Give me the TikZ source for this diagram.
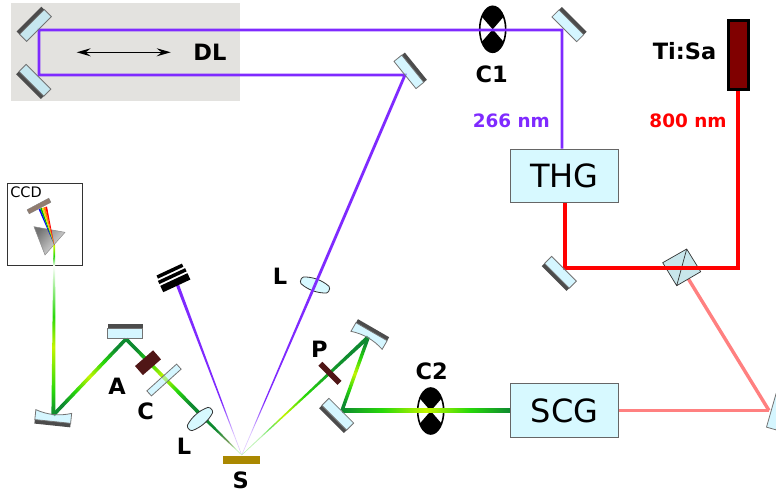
\documentclass[tikz,border=0pt]{standalone}
\usepackage{fontspec}
\setmainfont{DejaVu Sans}
\usepackage{xcolor}
\usepackage{tikz}
\usetikzlibrary{arrows.meta}
\usetikzlibrary{calc}
\definecolor{uvbeam}{HTML}{7F2AFF}
\definecolor{pinkbeam}{HTML}{FF8080}
\definecolor{boxblue}{HTML}{D7F9FF}
\definecolor{glassblue}{HTML}{ABEDFF}
\definecolor{greendark}{HTML}{0E8A30}
\definecolor{greenlit}{HTML}{28D80A}
\definecolor{greenyel}{HTML}{C4F500}
\definecolor{dlgray}{HTML}{E3E2DF}
\definecolor{gratinggray}{HTML}{917C6F}
\definecolor{samplegold}{HTML}{AA8800}
\definecolor{cubeblue}{HTML}{C8E6EB}
\definecolor{darkmaroon}{HTML}{501616}
\pgfdeclarehorizontalshading{wlgreen}{100bp}{color(0bp)=(greendark); color(25bp)=(greendark); color(37bp)=(greenlit); color(50bp)=(greenyel); color(63bp)=(greenlit); color(75bp)=(greendark); color(100bp)=(greendark)}
\pgfdeclarehorizontalshading{wlfocus}{100bp}{color(0bp)=(greendark); color(25bp)=(greendark); color(42bp)=(greendark); color(62bp)=(greendark!60!brown!80!white); color(75bp)=(greenlit!25!white); color(100bp)=(greenlit!25!white)}
\pgfdeclarehorizontalshading{wlprobe}{100bp}{color(0bp)=(greendark); color(25bp)=(greendark); color(36bp)=(greendark!80!greenlit); color(50bp)=(greenlit); color(62bp)=(greenyel); color(69bp)=(greenlit!70!white); color(75bp)=(greenlit!30!white); color(100bp)=(greenlit!30!white)}
\pgfdeclarehorizontalshading{wlccd}{100bp}{color(0bp)=(greendark); color(25bp)=(greendark); color(32bp)=(greenlit); color(45bp)=(greenyel); color(54bp)=(greenlit); color(62bp)=(greenlit!50!white); color(69bp)=(white); color(72bp)=(greenlit); color(75bp)=(greenyel); color(100bp)=(greenyel)}
\pgfdeclarehorizontalshading{uvfade}{100bp}{color(0bp)=(uvbeam); color(25bp)=(uvbeam); color(62bp)=(uvbeam); color(75bp)=(uvbeam!25!white); color(100bp)=(uvbeam!25!white)}
\tikzstyle{glass}=[draw=black!55,line width=.8pt,fill=glassblue,fill opacity=.5]
\tikzstyle{glassback}=[fill=black!70]
\tikzstyle{unit}=[draw=black!60,line width=1.2pt,fill=boxblue,inner sep=0pt,minimum width=108pt,minimum height=53.6pt,font=\fontsize{32}{34}\selectfont]
\tikzstyle{lbl}=[inner sep=0pt,font=\fontsize{22.5}{24}\bfseries\selectfont]
\tikzstyle{wl}=[inner sep=0pt,font=\fontsize{18.4}{20}\bfseries\selectfont]
\tikzset{
	mirror/.pic={
		\fill[glassback] (-17.5,-10) rectangle (17.5,-14);
		\draw[glass] (-17.5,0) rectangle (17.5,-10);
	},
	curvedmirror/.pic={
		\fill[glassback] (-18,-6.5) rectangle (18,-10.5);
		\draw[glass] (-18,3.5) .. controls (-6,-.5) and (6,-.5) .. (18,3.5) -- (18,-6.5) -- (-18,-6.5) -- cycle;
	},
	lens/.pic={
		\draw[draw=black!80,line width=.8pt,fill=boxblue,rounded corners=1.5pt] (-15,-3) .. controls (-5,-7) and (5,-7) .. (15,-3) -- (15,3) .. controls (5,7) and (-5,7) .. (-15,3) -- cycle;
	},
	chopper/.pic={
		\fill[white] (0,0) ellipse (13pt and 23pt);
		\begin{scope}
			\clip (0,0) ellipse (13pt and 23pt);
			\fill (-13,-25) -- (13,-25) -- (13,-15) -- (-13,15) -- (-13,25) -- (13,25) -- (13,15) -- (-13,-15) -- cycle;
		\end{scope}
		\draw[line width=1.6pt] (0,0) ellipse (13pt and 23pt);
	},
	dump/.pic={
		\fill (-14,-9) rectangle (14,-5.5);
		\fill (-15,-3.5) rectangle (15,0);
		\fill (-15,2) rectangle (15,9);
	},
}
% tapered beam: shading, from, to, half width at each end
\newcommand\beam[5]{%
	\path let \p1=($(#3)-(#2)$), \n1={atan2(\y1,\x1)} in \pgfextra{\xdef\beamangle{\n1}};
	\shade[shading=#1,shading angle=\beamangle] ($(#2)!#4!90:(#3)$) -- ($(#3)!#5!-90:(#2)$) -- ($(#3)!#5!90:(#2)$) -- ($(#2)!#4!-90:(#3)$) -- cycle;%
}
\begin{document}
\begin{tikzpicture}[x=1pt,y=-1pt]
	\clip (0,0) rectangle (776,493);
	\fill[dlgray] (10.7,3.3) rectangle (240,100.7);
	\node[unit] (thg) at (564.5,176) {THG};
	\node[unit] (scg) at (564.5,410.5) {SCG};
	\node[draw,line width=3pt,fill=red!50!black,inner sep=0pt,minimum width=20pt,minimum height=69pt] (tisa) at (738,55) {};
	\coordinate (dla) at (39,30);
	\coordinate (dlb) at (39,75);
	\coordinate (mtop) at (562,30);
	\coordinate (msam) at (405,75);
	\coordinate (mred) at (565,268);
	\coordinate (cube) at (681.7,268);
	\coordinate (corner) at (738,268);
	\coordinate (medge) at (769,410.5);
	\coordinate (mgreen) at (342,410.5);
	\coordinate (mfocus) at (368.3,337);
	\coordinate (sam) at (241.7,455);
	\coordinate (mtilt) at (126,339);
	\coordinate (mcurve) at (53.4,415);
	\coordinate (prism) at (54.3,245);
	\coordinate (dumpin) at (177.5,285);
	\coordinate (lensu) at (315,285);
	\coordinate (lensd) at (200,414);
	\coordinate (arrl) at (76.7,52.3);
	\coordinate (arrr) at (170.7,52.3);
	\draw[line width=1.2pt,{Stealth[length=14pt,width=8pt,inset=5pt]}-{Stealth[length=14pt,width=8pt,inset=5pt]}] (arrl) -- (arrr);
	\pic at (492.7,29.3) {chopper};
	\pic at (430.7,411) {chopper};
	\pic[rotate=-20] at (315,285) {lens};
	\draw[line width=3.4pt,pinkbeam] (cube) -- (medge);
	\draw[line width=2.4pt,pinkbeam] (medge) -- (scg.east);
	\draw[draw=black!80,line width=.7pt,fill=cubeblue] (662.7,262.7) -- (686.7,249) -- (700.7,271.7) -- (676.7,285.7) -- cycle (686.7,249) -- (676.7,285.7);
	\draw[line width=3.4pt,red,line join=miter] (tisa.south) -- (corner) -- (mred) -- (mred |- thg.south);
	\draw[line width=2.8pt,uvbeam] (mtop |- thg.north) -- (mtop) -- (dla) -- (dlb) -- (msam) -- (lensu);
	\beam{uvfade}{lensu}{sam}{1.4pt}{.25pt}
	\beam{uvfade}{dumpin}{sam}{1.6pt}{.25pt}
	\beam{wlgreen}{scg.west}{mgreen}{1.7pt}{1.7pt}
	\beam{wlgreen}{mgreen}{mfocus}{1.7pt}{1.7pt}
	\beam{wlprobe}{mfocus}{sam}{2pt}{.25pt}
	\beam{wlgreen}{mtilt}{lensd}{1.8pt}{1.8pt}
	\beam{wlfocus}{lensd}{sam}{1.8pt}{.25pt}
	\beam{wlgreen}{mtilt}{mcurve}{1.8pt}{1.8pt}
	\draw[line width=1pt,black!80] (7.5,183.5) rectangle (82.5,265.5);
	\shade[draw=black!45,line width=.5pt,bottom color=black!55,top color=black!8,shading angle=-130] (34,226.7) -- (65,232.3) -- (45,255) -- cycle;
	\beam{wlccd}{mcurve}{prism}{2pt}{.9pt}
	\foreach \i/\hue in {0/blue,1/green!70!black,2/yellow!90!black,3/orange,4/red} {
		\fill[\hue] (prism) -- ($(38.5,209)!\i/5!(47,206.5)$) -- ($(38.5,209)!\i/5+.2!(47,206.5)$) -- cycle;
	}
	\draw[draw=black!50,fill=gratinggray,rotate around={28:(39,206)}] (26.7,203.7) rectangle (51.3,208.3);
	\pic[rotate=45] at (39,29) {mirror};
	\pic[rotate=135] at (38.5,76.7) {mirror};
	\pic[rotate=-45] at (564.3,29.3) {mirror};
	\pic[rotate=-51] at (405,75) {mirror};
	\pic[rotate=135] at (564,268.7) {mirror};
	\pic[rotate=135] at (341.3,410.7) {mirror};
	\pic at (125.3,338.3) {mirror};
	\pic[rotate=-106] at (771.3,410.3) {mirror};
	\pic[rotate=-30] at (368.3,337.3) {curvedmirror};
	\pic[rotate=174] at (53.4,415) {curvedmirror};
	\pic[rotate=25] at (173,277.7) {dump};
	\pic[rotate=41] at (200,419) {lens};
	\draw[glass,rotate around={42:(164,380)}] (144,376.6) rectangle (184,383.4);
	\fill[darkmaroon,rotate around={41:(148,362.7)}] (136,356.7) rectangle (160,368.7);
	\fill[darkmaroon,rotate around={-45:(330,373.3)}] (316.5,370.5) rectangle (343.5,376.1);
	\fill[samplegold] (222.7,455.7) rectangle (260,464.3);
	\node[lbl] (dl) at (210,52) {DL};
	\node[lbl] (tisal) at (684.5,51.5) {Ti:Sa};
	\node[lbl] (cone) at (491.7,74) {C1};
	\node[lbl] (ctwo) at (431.7,371) {C2};
	\node[wl,text=uvbeam] (uvl) at (511.3,120.3) {266 nm};
	\node[wl,text=red] (irl) at (688,120.3) {800 nm};
	\node[lbl] (al) at (117,386) {A};
	\node[lbl] (cl) at (145.7,411.7) {C};
	\node[lbl] (ll) at (184,446.7) {L};
	\node[lbl] (sl) at (240.7,480.5) {S};
	\node[lbl] (lu) at (280,276) {L};
	\node[lbl] (pl) at (319.3,349.3) {P};
	\node[inner sep=0pt,font=\fontsize{14.5}{16}\selectfont] (ccd) at (26,192.5) {CCD};
\end{tikzpicture}
\end{document}
